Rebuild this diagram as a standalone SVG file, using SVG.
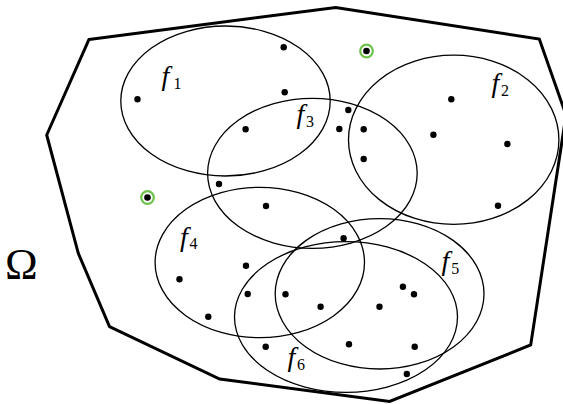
<svg xmlns="http://www.w3.org/2000/svg" width="563" height="404" viewBox="0 0 563 404">
<style>
.dom{fill:none;stroke:#000;stroke-width:3;stroke-linejoin:miter}
.ell{fill:none;stroke:#000;stroke-width:1.3}
.dot{fill:#000}
.ring{fill:none;stroke:#6cc24a;stroke-width:2.2}
.f{font-family:"Liberation Serif","DejaVu Serif",serif;font-style:italic;font-size:28px}
.s{font-family:"Liberation Serif","DejaVu Serif",serif;font-size:16px}
.om{font-family:"Liberation Serif","DejaVu Serif",serif;font-size:44px}
</style>
<rect width="563" height="404" fill="#fff"/>
<g id="domain">
<polygon class="dom" points="89,39.5 335.7,7.5 539.3,39 566,115 530.7,345 389.6,401.5 219.7,379 109.5,326.7 78.3,253.3 46.7,135"/>
<text class="om" x="5" y="279">Ω</text>
</g>
<g id="sets">
<g id="f1"><ellipse class="ell" cx="225.5" cy="101" rx="104.7" ry="75"/><text x="161.5" y="85"><tspan class="f">f</tspan><tspan class="s" x="173.5" y="89.3">1</tspan></text></g>
<g id="f2"><ellipse class="ell" cx="453.7" cy="139.8" rx="105.2" ry="84.6"/><text x="491.5" y="91.5"><tspan class="f">f</tspan><tspan class="s" x="501" y="95.7">2</tspan></text></g>
<g id="f3"><ellipse class="ell" cx="312.4" cy="173.3" rx="104.8" ry="75"/><text x="296.5" y="123"><tspan class="f">f</tspan><tspan class="s" x="306" y="127">3</tspan></text></g>
<g id="f4"><ellipse class="ell" cx="259.8" cy="262.5" rx="104.7" ry="75.2"/><text x="180" y="245.5"><tspan class="f">f</tspan><tspan class="s" x="189.5" y="249.3">4</tspan></text></g>
<g id="f5"><ellipse class="ell" cx="379.6" cy="293.8" rx="104.4" ry="75.2"/><text x="441.5" y="270"><tspan class="f">f</tspan><tspan class="s" x="451.3" y="273.5">5</tspan></text></g>
<g id="f6"><ellipse class="ell" cx="346" cy="317" rx="111.5" ry="75.3"/><text x="287.5" y="365.5"><tspan class="f">f</tspan><tspan class="s" x="297" y="369.5">6</tspan></text></g>
</g>
<g id="points">
<circle class="ring" cx="366.5" cy="51" r="6.3"/>
<circle class="ring" cx="147.5" cy="197.5" r="6.3"/>
<circle class="dot" cx="366.5" cy="51" r="3.3"/>
<circle class="dot" cx="147.5" cy="197.5" r="3.3"/>
<circle class="dot" cx="283.7" cy="47.3" r="3.2"/>
<circle class="dot" cx="137.5" cy="99.3" r="3.2"/>
<circle class="dot" cx="284.7" cy="92.3" r="3.2"/>
<circle class="dot" cx="451.3" cy="99.3" r="3.2"/>
<circle class="dot" cx="348.3" cy="110" r="3.2"/>
<circle class="dot" cx="245.6" cy="129.3" r="3.2"/>
<circle class="dot" cx="339.3" cy="129" r="3.2"/>
<circle class="dot" cx="363.7" cy="129.3" r="3.2"/>
<circle class="dot" cx="433.4" cy="134.7" r="3.2"/>
<circle class="dot" cx="507.4" cy="144" r="3.2"/>
<circle class="dot" cx="363.7" cy="159" r="3.2"/>
<circle class="dot" cx="219" cy="184" r="3.2"/>
<circle class="dot" cx="266" cy="206" r="3.2"/>
<circle class="dot" cx="498" cy="205.7" r="3.2"/>
<circle class="dot" cx="343.6" cy="238.3" r="3.2"/>
<circle class="dot" cx="246" cy="265.7" r="3.2"/>
<circle class="dot" cx="179.5" cy="279.3" r="3.2"/>
<circle class="dot" cx="247.7" cy="294" r="3.2"/>
<circle class="dot" cx="285.5" cy="294.3" r="3.2"/>
<circle class="dot" cx="320.6" cy="306.7" r="3.2"/>
<circle class="dot" cx="402.9" cy="286.7" r="3.2"/>
<circle class="dot" cx="414" cy="294.3" r="3.2"/>
<circle class="dot" cx="379.5" cy="306.7" r="3.2"/>
<circle class="dot" cx="208.3" cy="316.7" r="3.2"/>
<circle class="dot" cx="265.7" cy="346.7" r="3.2"/>
<circle class="dot" cx="349" cy="344.3" r="3.2"/>
<circle class="dot" cx="414.7" cy="346.7" r="3.2"/>
<circle class="dot" cx="406.8" cy="374" r="3.2"/>
</g>
</svg>
